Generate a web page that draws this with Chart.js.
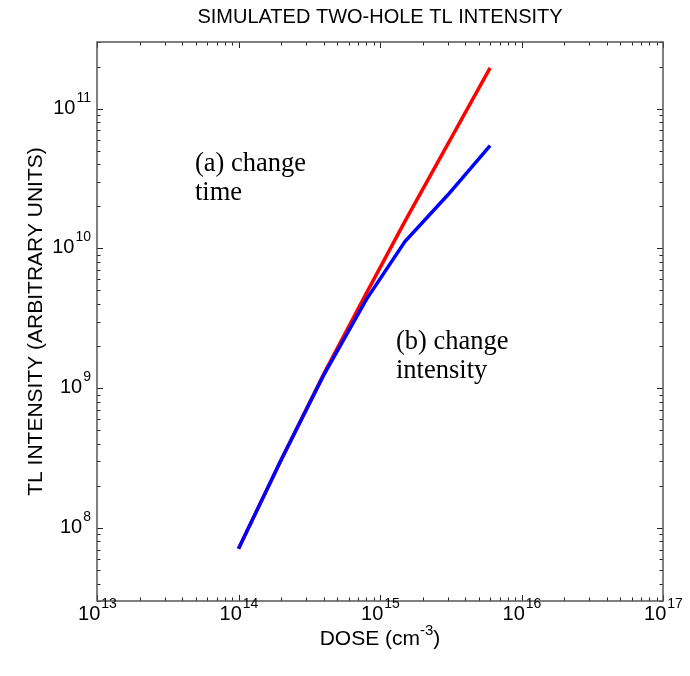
<!DOCTYPE html>
<html>
<head>
<meta charset="utf-8">
<script src="https://cdn.jsdelivr.net/npm/chart.js@4.4.1/dist/chart.umd.min.js"></script>
<style>
  html, body { margin: 0; padding: 0; background: #fff; }
  #wrap { width: 690px; height: 676px; }
</style>
</head>
<body>
<div id="wrap"><canvas id="tl" width="690" height="676"></canvas></div>
<script>
// dose values (cm^-3) shared by both curves
const doses = [1e14, 2e14, 4e14, 8e14, 1.5e15, 3e15, 6e15];
// (a) change time
const changeTime = [7.1e7, 3.06e8, 1.26e9, 4.77e9, 1.56e10, 5.53e10, 1.96e11];
// (b) change intensity
const changeIntensity = [7.1e7, 3.06e8, 1.24e9, 4.3e9, 1.12e10, 2.4e10, 5.45e10];

const xTickExps = [13, 14, 15, 16, 17];
const yTickExps = [8, 9, 10, 11];
const xRange = [1e13, 1e17];
const yRange = [3e7, 3e11];

const SANS = '"Liberation Sans", Arial, sans-serif';
const SERIF = '"Liberation Serif", "Times New Roman", serif';

function toPoints(ys) {
  return doses.map((d, i) => ({ x: d, y: ys[i] }));
}

// all log ticks (value, isMajor) inside [lo, hi]
function logTicks(lo, hi) {
  const out = [];
  for (let e = Math.floor(Math.log10(lo)); e <= Math.ceil(Math.log10(hi)); e++) {
    for (let m = 1; m <= 9; m++) {
      const v = m * Math.pow(10, e);
      if (v >= lo * 0.999 && v <= hi * 1.001) out.push({ v: v, major: m === 1 });
    }
  }
  return out;
}

function powLabel(ctx, exp, x, y, align) {
  ctx.font = "20px " + SANS;
  const base = ctx.measureText("10").width;
  ctx.font = "14px " + SANS;
  const sup = ctx.measureText(String(exp)).width;
  const total = base + sup;
  let left = x - total / 2;
  if (align === "right") left = x - total;
  ctx.textAlign = "left";
  ctx.textBaseline = "alphabetic";
  ctx.font = "20px " + SANS;
  ctx.fillText("10", left, y);
  ctx.font = "14px " + SANS;
  ctx.fillText(String(exp), left + base + 1, y - 12);
}

const framePlugin = {
  id: "frame",
  afterDraw(chart) {
    const { ctx, chartArea: a } = chart;
    const xs = chart.scales.x;
    const ys = chart.scales.y;
    ctx.save();

    // inward tick marks on all four sides
    ctx.strokeStyle = "#222";
    ctx.lineWidth = 1;
    logTicks(xRange[0], xRange[1]).forEach((t) => {
      const px = Math.round(xs.getPixelForValue(t.v)) + 0.5;
      const len = t.major ? 6 : 3.5;
      ctx.beginPath();
      ctx.moveTo(px, a.bottom);
      ctx.lineTo(px, a.bottom - len);
      ctx.moveTo(px, a.top);
      ctx.lineTo(px, a.top + len);
      ctx.stroke();
    });
    logTicks(yRange[0], yRange[1]).forEach((t) => {
      const py = Math.round(ys.getPixelForValue(t.v)) + 0.5;
      const len = t.major ? 6 : 3.5;
      ctx.beginPath();
      ctx.moveTo(a.left, py);
      ctx.lineTo(a.left + len, py);
      ctx.moveTo(a.right, py);
      ctx.lineTo(a.right - len, py);
      ctx.stroke();
    });

    // box
    ctx.strokeStyle = "#555";
    ctx.lineWidth = 1.5;
    ctx.strokeRect(a.left, a.top, a.right - a.left, a.bottom - a.top);

    // tick labels
    ctx.fillStyle = "#000";
    xTickExps.forEach((e) => {
      powLabel(ctx, e, xs.getPixelForValue(Math.pow(10, e)), a.bottom + 19, "center");
    });
    yTickExps.forEach((e) => {
      powLabel(ctx, e, a.left - 7, ys.getPixelForValue(Math.pow(10, e)) + 5, "right");
    });

    // titles
    const cx = (a.left + a.right) / 2;
    ctx.textAlign = "center";
    ctx.textBaseline = "middle";
    ctx.font = "20px " + SANS;
    ctx.fillText("SIMULATED TWO-HOLE TL INTENSITY", cx, 17);

    ctx.font = "21px " + SANS;
    ctx.textAlign = "left";
    const w1 = ctx.measureText("DOSE (cm").width;
    ctx.font = "15px " + SANS;
    const w2 = ctx.measureText("-3").width;
    ctx.font = "21px " + SANS;
    const w3 = ctx.measureText(")").width;
    let lx = cx - (w1 + w2 + w3) / 2;
    ctx.textBaseline = "alphabetic";
    ctx.fillText("DOSE (cm", lx, 645);
    ctx.font = "15px " + SANS;
    ctx.fillText("-3", lx + w1, 635);
    ctx.font = "21px " + SANS;
    ctx.fillText(")", lx + w1 + w2, 645);

    ctx.save();
    ctx.translate(36, (a.top + a.bottom) / 2);
    ctx.rotate(-Math.PI / 2);
    ctx.textAlign = "center";
    ctx.textBaseline = "middle";
    ctx.font = "21px " + SANS;
    ctx.fillText("TL INTENSITY (ARBITRARY UNITS)", 0, 0);
    ctx.restore();

    // curve annotations
    ctx.textAlign = "left";
    ctx.textBaseline = "alphabetic";
    ctx.font = "26.5px " + SERIF;
    ctx.fillText("(a) change", 195, 171);
    ctx.fillText("time", 195, 200);
    ctx.fillText("(b) change", 396, 349);
    ctx.fillText("intensity", 396, 378);

    ctx.restore();
  },
};

new Chart(document.getElementById("tl").getContext("2d"), {
  type: "line",
  data: {
    datasets: [
      {
        label: "change time",
        data: toPoints(changeTime),
        borderColor: "#ff0000",
        borderWidth: 3.5,
        pointRadius: 0,
        tension: 0,
        fill: false,
        order: 1,
      },
      {
        label: "change intensity",
        data: toPoints(changeIntensity),
        borderColor: "#0000ff",
        borderWidth: 3.5,
        pointRadius: 0,
        tension: 0,
        fill: false,
        order: 0,
      },
    ],
  },
  options: {
    responsive: false,
    animation: false,
    devicePixelRatio: 1,
    layout: { padding: { left: 97, top: 42, right: 27, bottom: 75 } },
    plugins: { legend: { display: false }, tooltip: { enabled: false } },
    scales: {
      x: { type: "logarithmic", min: xRange[0], max: xRange[1], display: false },
      y: { type: "logarithmic", min: yRange[0], max: yRange[1], display: false },
    },
  },
  plugins: [framePlugin],
});
</script>
</body>
</html>
